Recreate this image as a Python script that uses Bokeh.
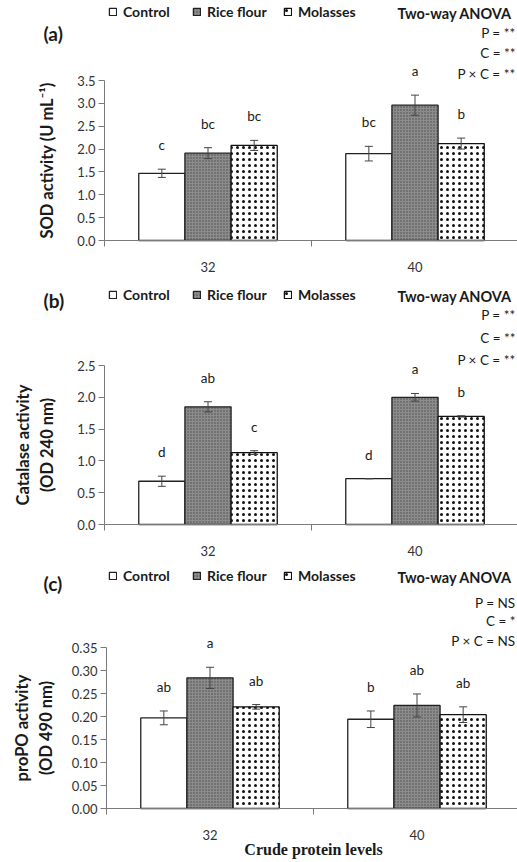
from bokeh.plotting import figure
from bokeh.models import (ColumnDataSource, FixedTicker, NumeralTickFormatter, Whisker,
                          TeeHead, LabelSet, Label, Legend, LegendItem, Range1d, LinearAxis)
from bokeh.core.properties import value
from bokeh.layouts import column
from bokeh.embed import file_html
from bokeh.resources import INLINE

# ---------------- data ----------------
categories = ["32", "40"]
series = ["Control", "Rice flour", "Molasses"]

sod_control = [1.47, 1.90]
sod_rice = [1.91, 2.96]
sod_molasses = [2.08, 2.12]
sod_control_err = [0.09, 0.16]
sod_rice_err = [0.12, 0.22]
sod_molasses_err = [0.11, 0.12]
sod_control_let = ["c", "bc"]
sod_rice_let = ["bc", "a"]
sod_molasses_let = ["bc", "b"]
sod_anova = ["P = **", "C = **", "P × C = **"]
sod_ticks = [0.0, 0.5, 1.0, 1.5, 2.0, 2.5, 3.0, 3.5]

cat_control = [0.68, 0.72]
cat_rice = [1.85, 2.00]
cat_molasses = [1.13, 1.70]
cat_control_err = [0.08, 0.0]
cat_rice_err = [0.08, 0.06]
cat_molasses_err = [0.03, 0.01]
cat_control_let = ["d", "d"]
cat_rice_let = ["ab", "a"]
cat_molasses_let = ["c", "b"]
cat_anova = ["P = **", "C = **", "P × C = **"]
cat_ticks = [0.0, 0.5, 1.0, 1.5, 2.0, 2.5]

po_control = [0.197, 0.194]
po_rice = [0.284, 0.224]
po_molasses = [0.221, 0.204]
po_control_err = [0.015, 0.018]
po_rice_err = [0.023, 0.025]
po_molasses_err = [0.005, 0.017]
po_control_let = ["ab", "b"]
po_rice_let = ["a", "ab"]
po_molasses_let = ["ab", "ab"]
po_anova = ["P = NS", "C = *", "P × C = NS"]
po_ticks = [0.00, 0.05, 0.10, 0.15, 0.20, 0.25, 0.30, 0.35]

# ---------------- layout / styles ----------------
W = 517
FONT = "Lato"
TXT = "#1a1a1a"
AX = "#7a7a7a"
BAR_W = 0.223
CAT_PX = 207.0

styles = [
    dict(fill_color="white", line_color="#222222", line_width=1.3),
    dict(fill_color="#8c8c8c", line_color="#222222", line_width=1.3,
         hatch_pattern="dot", hatch_color="#4a4a4a", hatch_scale=3, hatch_weight=1),
    dict(fill_color="white", line_color="#111111", line_width=1.3,
         hatch_pattern="dot", hatch_color="#111111", hatch_scale=6, hatch_weight=2),
]


def lab(p, h, x, ytop, text, **kw):
    opts = dict(text_font=FONT, text_font_size="13.5px", text_color=TXT,
                text_baseline="middle")
    opts.update(kw)
    p.add_layout(Label(x=x, y=h - ytop, x_units="screen", y_units="screen",
                       text=text, **opts))


def make_panel(tag, ylabel, ylabel_x, means, errs, lets, anova, ticks, fmt, h,
               x0_px, y0_px, ytop_px, head_y, tag_y, anova_ys, xlabel=None):
    ymax = ticks[-1]
    ppu = (y0_px - ytop_px) / ymax
    y_start = -(h - y0_px) / ppu
    y_end = ymax + ytop_px / ppu
    x_start = -x0_px / CAT_PX
    x_end = (W - x0_px) / CAT_PX

    p = figure(width=W, height=h, x_range=Range1d(x_start, x_end),
               y_range=Range1d(y_start, y_end),
               output_backend="svg", toolbar_location=None,
               x_axis_location=None, y_axis_location=None,
               min_border=0)
    p.outline_line_color = None
    p.xgrid.visible = False
    p.ygrid.visible = False
    p.background_fill_color = "white"

    ncat = len(categories)
    renderers = []
    for j, (m, e, l) in enumerate(zip(means, errs, lets)):
        xs = [i + 0.5 + (j - 1) * BAR_W for i in range(ncat)]
        src = ColumnDataSource(dict(
            x=xs, top=m,
            upper=[a + b for a, b in zip(m, e)],
            lower=[a - b for a, b in zip(m, e)],
            let=l))
        r = p.vbar(x="x", top="top", width=BAR_W, bottom=0, source=src, **styles[j])
        renderers.append(r)
        w = Whisker(source=src, base="x", upper="upper", lower="lower",
                    line_color="#444444", line_width=1,
                    upper_head=TeeHead(size=8, line_color="#444444", line_width=1),
                    lower_head=TeeHead(size=8, line_color="#444444", line_width=1))
        w.level = "overlay"
        p.add_layout(w)
        ls = LabelSet(source=src, x="x", y="upper", text="let", y_offset=24,
                      text_align="center", text_baseline="middle",
                      text_font=value(FONT), text_font_size="13.5px", text_color=TXT)
        p.add_layout(ls)

    # y axis (fixed at x = 0, limited to the tick span)
    yax = LinearAxis(fixed_location=0, bounds=(0, ymax))
    yax.ticker = FixedTicker(ticks=ticks)
    yax.formatter = NumeralTickFormatter(format=fmt)
    yax.axis_line_color = AX
    yax.major_tick_line_color = AX
    yax.major_tick_out = 6
    yax.major_tick_in = 0
    yax.minor_tick_line_color = None
    yax.major_label_text_font = FONT
    yax.major_label_text_font_size = "13px"
    yax.major_label_text_color = "#333333"
    yax.major_label_standoff = 3
    p.add_layout(yax, "left")

    # x axis (fixed at y = 0), boundary ticks as minor ticks
    centers = [i + 0.5 for i in range(ncat)]
    xax = LinearAxis(fixed_location=0, bounds=(0, ncat))
    xax.ticker = FixedTicker(ticks=centers, minor_ticks=list(range(ncat + 1)))
    xax.major_label_overrides = {c: t for c, t in zip(centers, categories)}
    xax.axis_line_color = AX
    xax.major_tick_line_color = None
    xax.major_tick_out = 0
    xax.major_tick_in = 0
    xax.minor_tick_line_color = AX
    xax.minor_tick_out = 6
    xax.minor_tick_in = 0
    xax.major_label_text_font = FONT
    xax.major_label_text_font_size = "13px"
    xax.major_label_text_color = "#333333"
    xax.major_label_standoff = 15
    p.add_layout(xax, "below")

    # y axis title
    lab(p, h, ylabel_x, (y0_px + ytop_px) / 2, ylabel, angle=90, angle_units="deg",
        text_align="center", text_font_style="bold", text_font_size="16.5px")
    if xlabel:
        lab(p, h, x0_px + CAT_PX * ncat / 2, y0_px + 41, xlabel, text_align="center",
            text_font="Liberation Serif", text_font_style="bold", text_font_size="16px")

    # legends (one per item)
    legend_xs = [108, 192, 283]
    for r, name, lx in zip(renderers, series, legend_xs):
        lg = Legend(items=[LegendItem(label=name, renderers=[r])],
                    location=(lx, h - head_y - 7), orientation="horizontal",
                    background_fill_alpha=0, border_line_alpha=0,
                    padding=0, margin=0, spacing=0,
                    glyph_width=9, glyph_height=9, label_standoff=6,
                    label_height=14,
                    label_text_font=FONT, label_text_font_style="bold",
                    label_text_font_size="14px", label_text_color=TXT)
        p.add_layout(lg)

    lab(p, h, 43, tag_y, tag, text_font_style="bold", text_font_size="19px")
    lab(p, h, 397, head_y, "Two-way ANOVA", text_font_style="bold", text_font_size="14.5px")
    for t, yy in zip(anova, anova_ys):
        lab(p, h, 515, yy, t, text_align="right")
    return p


pa = make_panel("(a)", "SOD activity (U mL⁻¹)", 46,
                [sod_control, sod_rice, sod_molasses],
                [sod_control_err, sod_rice_err, sod_molasses_err],
                [sod_control_let, sod_rice_let, sod_molasses_let],
                sod_anova, sod_ticks, "0.0", 277,
                104, 240, 80, 13, 33, [32, 52, 73])
pb = make_panel("(b)", "Catalase activity\n(OD 240 nm)", 34,
                [cat_control, cat_rice, cat_molasses],
                [cat_control_err, cat_rice_err, cat_molasses_err],
                [cat_control_let, cat_rice_let, cat_molasses_let],
                cat_anova, cat_ticks, "0.0", 283,
                104, 247, 88, 19, 23, [37, 60, 82])
pc = make_panel("(c)", "proPO activity\n(OD 490 nm)", 33,
                [po_control, po_rice, po_molasses],
                [po_control_err, po_rice_err, po_molasses_err],
                [po_control_let, po_rice_let, po_molasses_let],
                po_anova, po_ticks, "0.00", 300,
                106, 248, 87, 17, 23, [42, 60, 80],
                xlabel="Crude protein levels")

layout = column(pa, pb, pc, spacing=0)
open("out.html", "w").write(file_html(layout, INLINE))
